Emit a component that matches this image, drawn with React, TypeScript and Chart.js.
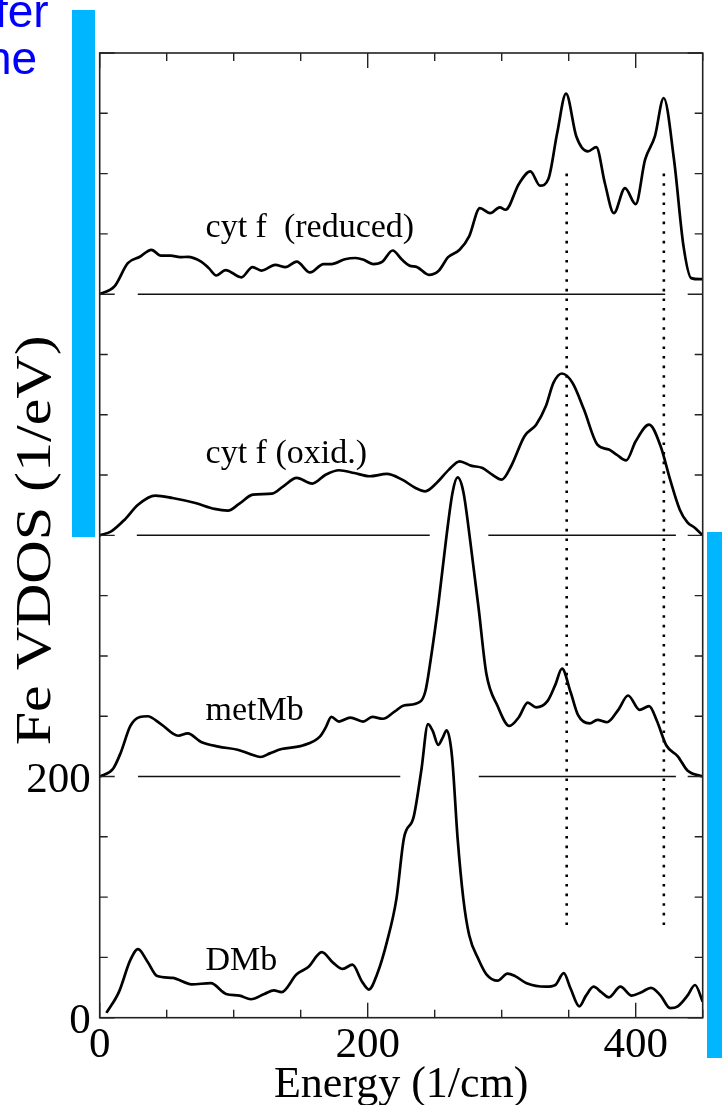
import React, { useEffect, useRef } from "react";
import { Chart, registerables } from "chart.js";

Chart.register(...registerables);

// ---- axis ranges & ticks ----
const xRange = [0, 450];
const yRange = [0, 800];
const tickStep = 50;
const majorStep = 200;
const xTickLabels = [0, 200, 400];
const yTickLabels = [0, 200];

// ---- series: [energy (1/cm), VDOS relative to its own baseline] ----
const reducedVdos: number[][] = [
  [0, 0], [11, 6.4], [21, 25.7], [30, 31], [38.6, 36.8], [45.7, 32], [53, 32], [60, 30.7],
  [65.7, 31], [75.7, 27], [81.4, 21.6], [87, 15.5], [94, 20], [105.7, 14], [114, 22.4],
  [121, 19.6], [131, 24.3], [138.6, 22.4], [147, 27], [157, 18], [167, 25], [173, 25],
  [183, 29], [191, 30], [197, 28.5], [204, 25], [211, 27], [218.6, 36.2], [225.7, 28.5],
  [231, 23.8], [237, 22.4], [245.7, 16], [253, 19.4], [260, 30.7], [268.6, 36.8],
  [275.7, 47.9], [283.7, 71.4], [291.4, 67.2], [298.6, 72], [302.9, 70], [312.9, 91.6],
  [321.4, 101.8], [328.6, 90], [334.9, 95.7], [341.4, 133.6], [348, 166.3], [355.7, 130.8],
  [364.3, 118.4], [370.6, 122], [377, 92], [383.7, 67.2], [392, 88], [400, 74.7],
  [407, 111.5], [414.3, 130.8], [420.9, 162.7], [428.6, 111.5], [435.7, 39.6],
  [441.4, 13.3], [448, 12.4], [450, 12.4],
];
const oxidVdos: number[][] = [
  [0, 0], [8.6, 3.3], [18.6, 13], [28.6, 25.4], [41.4, 33], [54.3, 31], [71.4, 26.8],
  [85.7, 21.9], [95.7, 20.5], [104.3, 26.3], [114.3, 33.7], [128.6, 34.6], [137, 40.7],
  [147, 47.6], [158.6, 42.9], [168.6, 50.3], [178.6, 54], [190, 51.7], [201.4, 49],
  [214.3, 50.9], [225.7, 46.2], [235.7, 39.3], [242.9, 36.5], [251.4, 43.4], [260.6, 54.5],
  [268.6, 61.4], [277, 57.8], [285.7, 55.9], [292.9, 50.3], [300, 46.2], [307, 57.3],
  [317, 82.2], [325.7, 91.8], [332.9, 107], [338.6, 126.4], [344.9, 134.2], [352.9, 126.4],
  [361.4, 104.3], [371.4, 75.2], [380, 71.1], [385.7, 67], [392.9, 62.2], [400, 78],
  [410, 91.8], [418.6, 73.9], [425.7, 46.2], [432.9, 21.3], [438.6, 10.8], [444.3, 6.1],
  [450, 0],
];
const metMbVdos: number[][] = [
  [0, 0], [10, 6.5], [15.7, 19.8], [22.9, 42], [30, 49.4], [35.7, 50], [45.7, 43.5],
  [58.6, 33.8], [65.7, 35.8], [75.7, 28.7], [88.6, 24.8], [102.9, 22.2], [112.9, 18.4],
  [120, 16.2], [127, 19.2], [135.7, 22.8], [151.4, 25.7], [164.3, 33.1], [168.6, 40.5],
  [172.9, 49.4], [178.6, 45.6], [187, 48.9], [196.6, 45.6], [203.4, 49.4], [211.4, 47.9],
  [220, 53.8], [227, 58.9], [235.7, 60.4], [242.9, 70.1], [247, 96.9], [252.9, 144.3],
  [258.6, 197.6], [263.4, 236], [267.1, 248], [271.4, 236], [276.6, 194.6], [282.9, 138.3],
  [288.6, 85], [297, 58.3], [305.7, 42], [312.9, 49.4], [319.4, 61.3], [325.7, 57.4],
  [334.3, 62.7], [340, 76], [345, 89.4], [351.4, 70.1], [357, 50.9], [365.7, 44],
  [371.4, 47], [378.6, 45], [387, 55.3], [394.3, 67.2], [402.9, 55.3], [410, 58.3],
  [415.7, 46.5], [422.9, 25.7], [431.4, 16.8], [438.6, 5], [450, 0],
];
const dmbVdos: number[][] = [
  [5, 4], [14.3, 21.2], [22.9, 47.9], [28.6, 56.8], [35.7, 46.4], [42.9, 34.5], [54.3, 33],
  [68.6, 27.7], [82.9, 28.6], [94.3, 19.7], [104.3, 18.3], [112.9, 15.3], [122.9, 19.7],
  [130, 22.7], [135.7, 21.2], [147, 36], [155.7, 42], [165.7, 54.4], [174.3, 45.5],
  [181.4, 40.5], [188.6, 44], [195.7, 30.1], [200.9, 23.3], [207, 36], [214.3, 62.7],
  [221.4, 98.3], [227, 148.7], [234.3, 166.5], [240, 205], [245, 243.5], [248.6, 237.6],
  [252.6, 226.3], [255.7, 231.6], [259, 238.2], [262.9, 216.8], [267.1, 148.7],
  [271.4, 98.3], [275.7, 68.6], [282.9, 47.9], [288.6, 36], [297, 30.7], [304.3, 36.6],
  [310, 34.5], [318.6, 28.6], [332.9, 25.7], [340, 27.1], [346.3, 36.9], [351.4, 24.2],
  [357.9, 9.4], [362.9, 18.3], [368.6, 25.7], [374.3, 21.2], [380, 16.8], [388.6, 25.7],
  [397, 18.3], [404.3, 21.2], [411.4, 24.8], [418.6, 18.3], [425.7, 7.9], [431.4, 9.4],
  [438.6, 18.3], [444.3, 27.1], [450, 13.3],
];

const seriesNames = ["cyt f  (reduced)", "cyt f (oxid.)", "metMb", "DMb"];
const seriesOffsets = [600, 400, 200, 0];

// baseline segments: [offset, energy from, energy to]
const baselineSegments: number[][] = [
  [600, 28.4, 422],
  [400, 27.7, 246.3],
  [400, 290, 430],
  [200, 28.6, 224.3],
  [200, 282.9, 430],
];

// dotted marker lines (energy) and their vertical extent
const markerEnergies = [348.5, 421];
const markerSpan = [75, 700];

// label anchors [energy, VDOS] for the series names
const labelAnchors: number[][] = [
  [79, 647],
  [79, 460],
  [79, 247],
  [79, 39.6],
];

const serif = '"Liberation Serif", "Times New Roman", serif';

export default function App() {
  const canvasRef = useRef<HTMLCanvasElement | null>(null);

  useEffect(() => {
    const canvas = canvasRef.current;
    if (!canvas) return;

    const series = [reducedVdos, oxidVdos, metMbVdos, dmbVdos];
    const curveSets = series.map((s, i) => ({
      label: seriesNames[i],
      data: s.map(([e, v]) => ({ x: e, y: v + seriesOffsets[i] })),
      borderColor: "#000",
      borderWidth: 2.7,
      pointRadius: 0,
      fill: false,
      cubicInterpolationMode: "monotone" as const,
    }));
    const baseSets = baselineSegments.map(([off, a, b]) => ({
      label: "baseline",
      data: [
        { x: a, y: off },
        { x: b, y: off },
      ],
      borderColor: "#111",
      borderWidth: 1.5,
      pointRadius: 0,
      fill: false,
    }));
    const markerSets = markerEnergies.map((e) => ({
      label: "marker",
      data: [
        { x: e, y: markerSpan[1] },
        { x: e, y: markerSpan[0] },
      ],
      borderColor: "#000",
      borderWidth: 2.6,
      borderDash: [2.6, 7.0],
      borderCapStyle: "butt" as const,
      pointRadius: 0,
      fill: false,
    }));

    const deco = {
      id: "deco",
      afterDatasetsDraw(chart: any) {
        const { ctx, chartArea: a } = chart;
        const xs = chart.scales.x;
        const ys = chart.scales.y;
        ctx.save();

        // series names
        ctx.fillStyle = "#000";
        ctx.font = `34px ${serif}`;
        ctx.textAlign = "left";
        ctx.textBaseline = "alphabetic";
        seriesNames.forEach((t, i) => {
          ctx.fillText(t, xs.getPixelForValue(labelAnchors[i][0]), ys.getPixelForValue(labelAnchors[i][1]));
        });

        // frame
        ctx.strokeStyle = "#222";
        ctx.lineWidth = 1.6;
        ctx.strokeRect(a.left, a.top, a.right - a.left, a.bottom - a.top);

        // inward ticks
        ctx.lineWidth = 1.4;
        ctx.beginPath();
        for (let v = xRange[0]; v <= xRange[1]; v += tickStep) {
          const p = xs.getPixelForValue(v);
          const len = v % majorStep === 0 ? 15 : 8;
          ctx.moveTo(p, a.bottom);
          ctx.lineTo(p, a.bottom - len);
          ctx.moveTo(p, a.top);
          ctx.lineTo(p, a.top + len);
        }
        for (let v = yRange[0]; v <= yRange[1]; v += tickStep) {
          const p = ys.getPixelForValue(v);
          const len = v % majorStep === 0 ? 15 : 8;
          ctx.moveTo(a.left, p);
          ctx.lineTo(a.left + len, p);
          ctx.moveTo(a.right, p);
          ctx.lineTo(a.right - len, p);
        }
        ctx.stroke();

        // tick labels
        ctx.font = `43px ${serif}`;
        ctx.textAlign = "center";
        xTickLabels.forEach((v) => {
          ctx.fillText(String(v), xs.getPixelForValue(v), a.bottom + 39);
        });
        ctx.textAlign = "right";
        yTickLabels.forEach((v) => {
          ctx.fillText(String(v), a.left - 9, ys.getPixelForValue(v) + 15);
        });

        // axis titles
        ctx.font = `44px ${serif}`;
        ctx.textAlign = "center";
        ctx.fillText("Energy (1/cm)", (a.left + a.right) / 2, a.bottom + 79);
        ctx.save();
        ctx.translate(a.left - 63, (a.top + a.bottom) / 2 + 5);
        ctx.rotate(-Math.PI / 2);
        ctx.scale(1.2, 1);
        ctx.font = `50px ${serif}`;
        ctx.textBaseline = "middle";
        ctx.fillText("Fe VDOS (1/eV)", 0, 0);
        ctx.restore();

        ctx.restore();
      },
    };

    const chart = new Chart(canvas, {
      type: "line",
      data: { datasets: [...curveSets, ...baseSets, ...markerSets] as any },
      options: {
        responsive: false,
        animation: false,
        layout: { padding: { left: 99.7, top: 53, right: 19.3, bottom: 87.3 } },
        plugins: { legend: { display: false }, tooltip: { enabled: false }, title: { display: false } },
        elements: { line: { tension: 0 } },
        scales: {
          x: { type: "linear", min: xRange[0], max: xRange[1], display: false },
          y: { type: "linear", min: yRange[0], max: yRange[1], display: false },
        },
      },
      plugins: [deco],
    });
    return () => chart.destroy();
  }, []);

  return (
    <div style={{ position: "absolute", left: 0, top: 0, width: 722, height: 1105, background: "#fff", overflow: "hidden" }}>
      <canvas ref={canvasRef} width={722} height={1105} style={{ position: "absolute", left: 0, top: 0 }} />
      <div style={{ position: "absolute", left: 72, top: 10, width: 23, height: 527, background: "#00B6FF" }} />
      <div style={{ position: "absolute", left: 707, top: 532, width: 15, height: 526, background: "#00B6FF" }} />
      <div style={{ position: "absolute", left: -5, top: -12, font: '46px "Liberation Sans", Arial, sans-serif', lineHeight: "46px", color: "#0000FF", whiteSpace: "nowrap" }}>fer</div>
      <div style={{ position: "absolute", left: -14, top: 35, font: '46px "Liberation Sans", Arial, sans-serif', lineHeight: "46px", color: "#0000FF", whiteSpace: "nowrap" }}>ne</div>
    </div>
  );
}
